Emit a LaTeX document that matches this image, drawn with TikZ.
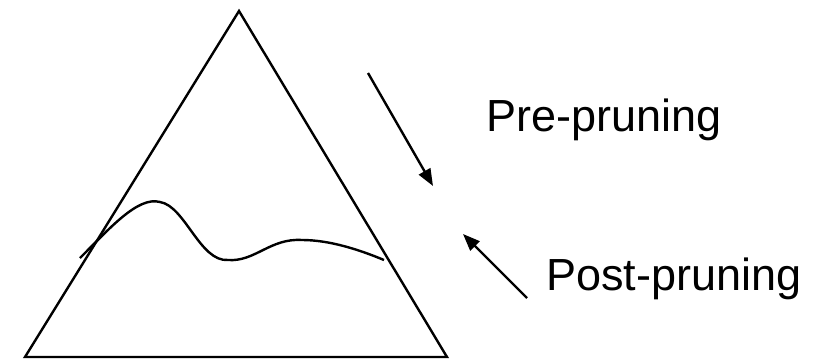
\documentclass[tikz,border=0pt]{standalone}
\usepackage{fontspec}
\setmainfont{Liberation Sans}
\usetikzlibrary{arrows.meta}
\tikzset{
  edge/.style={line width=2.4pt, line join=miter},
  arr/.style={line width=2.4pt, -{Triangle[length=17pt,width=13pt]}},
  lbl/.style={font=\fontsize{45}{54}\selectfont, anchor=base west, inner sep=0pt}
}
\begin{document}
\begin{tikzpicture}[x=1pt,y=-1pt]
\useasboundingbox (0,0) rectangle (819,362);
\coordinate (apex) at (239,11);
\coordinate (bl) at (25,357);
\coordinate (br) at (447,357);
\draw[edge] (apex) -- (bl) -- (br) -- cycle;
\coordinate (c0) at (80,258);
\coordinate (c1) at (160,202);
\coordinate (c2) at (228,260);
\coordinate (c3) at (302,240);
\coordinate (c4) at (384,260);
\draw[line width=2.4pt] (c0) .. controls (110,228) and (138,196) .. (c1)
  .. controls (185,206) and (200,262) .. (c2)
  .. controls (255,262) and (270,238) .. (c3)
  .. controls (330,240) and (360,250) .. (c4);
\coordinate (p0) at (368,73);
\coordinate (p1) at (433,186);
\draw[arr] (p0) -- (p1);
\coordinate (q0) at (527,298);
\coordinate (q1) at (463,234);
\draw[arr] (q0) -- (q1);
\node[lbl] (pre) at (486,131) {Pre-pruning};
\node[lbl] (post) at (546,290) {Post-pruning};
\end{tikzpicture}
\end{document}
